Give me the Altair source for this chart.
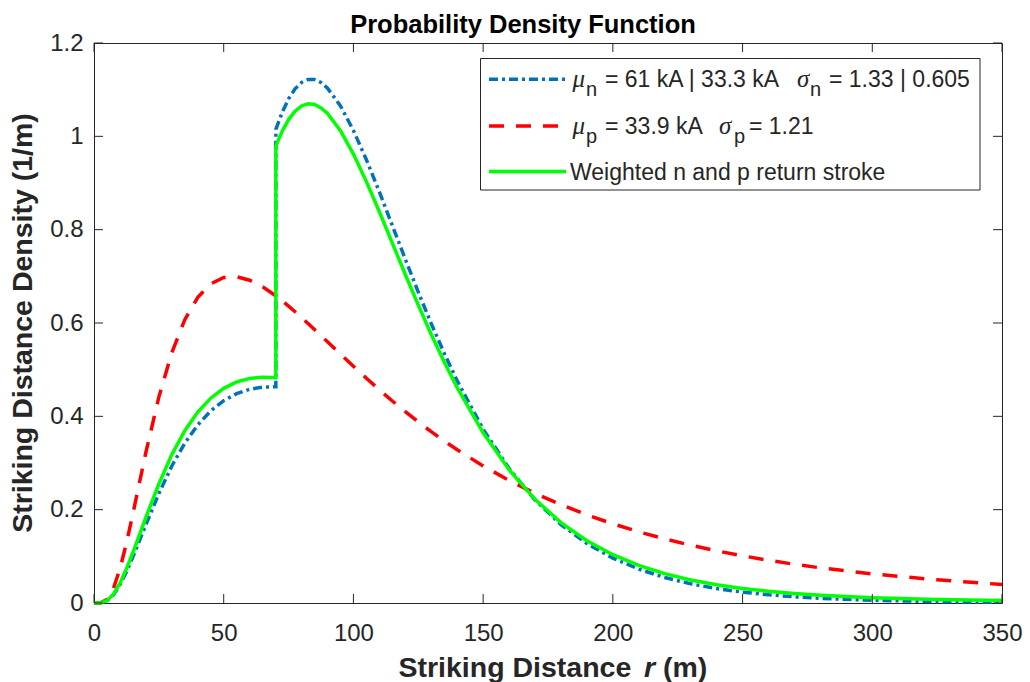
import altair as alt
import pandas as pd

# ---- data ----
r_vals = [0, 2.5, 5, 7.5, 10, 12.5, 15, 20, 25, 30, 35, 40, 45, 50, 55, 60, 65, 70.1, 70.1,
          72.5, 75, 77.5, 80, 82.5, 85, 87.5, 90, 95, 100, 105, 110, 115, 120, 125, 130, 135,
          140, 150, 160, 170, 180, 190, 200, 210, 220, 230, 240, 250, 260, 270, 280, 300,
          325, 350]

neg_vals = [0, 0.0003, 0.0047, 0.0175, 0.0392, 0.0668, 0.0989, 0.1680, 0.2347, 0.2936, 0.3426,
            0.3817, 0.4117, 0.4336, 0.4487, 0.4580, 0.4626, 0.4633, 1.0149, 1.0508, 1.0803,
            1.1017, 1.1154, 1.1219, 1.1217, 1.1153, 1.1033, 1.0653, 1.0126, 0.9498, 0.8808,
            0.8089, 0.7367, 0.6662, 0.5987, 0.5351, 0.4761, 0.3726, 0.2881, 0.2208, 0.1681,
            0.1273, 0.0962, 0.0725, 0.0546, 0.0411, 0.0309, 0.0233, 0.0176, 0.0132, 0.0100,
            0.0058, 0.0029, 0.0015]

pos_vals = [0, 0.0004, 0.0076, 0.0314, 0.0731, 0.1283, 0.1915, 0.3227, 0.4412, 0.5366, 0.6072,
            0.6551, 0.6840, 0.6975, 0.6991, 0.6916, 0.6774, 0.6580, 0.6580, 0.6476, 0.6361,
            0.6241, 0.6117, 0.5990, 0.5860, 0.5729, 0.5597, 0.5333, 0.5072, 0.4816, 0.4568,
            0.4329, 0.4100, 0.3880, 0.3671, 0.3472, 0.3284, 0.2937, 0.2627, 0.2351, 0.2106,
            0.1889, 0.1696, 0.1525, 0.1373, 0.1238, 0.1118, 0.1011, 0.0915, 0.0830, 0.0753,
            0.0624, 0.0496, 0.0397]

wgt_vals = [0, 0.0003, 0.0050, 0.0189, 0.0426, 0.0730, 0.1082, 0.1835, 0.2554, 0.3179, 0.3691,
            0.4091, 0.4389, 0.4600, 0.4737, 0.4813, 0.4840, 0.4827, 0.9792, 1.0105, 1.0359,
            1.0540, 1.0651, 1.0696, 1.0681, 1.0610, 1.0489, 1.0121, 0.9620, 0.9030, 0.8384,
            0.7713, 0.7040, 0.6384, 0.5755, 0.5163, 0.4613, 0.3647, 0.2856, 0.2222, 0.1723,
            0.1335, 0.1035, 0.0805, 0.0629, 0.0494, 0.0390, 0.0311, 0.0250, 0.0202, 0.0165,
            0.0114, 0.0076, 0.0053]

x_ticks = [0, 50, 100, 150, 200, 250, 300, 350]
y_ticks = [0, 0.2, 0.4, 0.6, 0.8, 1, 1.2]

W, H = 908, 560
FONT = "Liberation Sans"
INK = "#262626"

def series(vals):
    return pd.DataFrame({"r": r_vals, "v": vals, "i": list(range(len(r_vals)))})

xs = alt.Scale(domain=[0, 350], nice=False, zero=False)
ys = alt.Scale(domain=[0, 1.2], nice=False, zero=False)

xaxis = alt.Axis(values=x_ticks, title=None, grid=False, domain=False, ticks=False, tickSize=0,
                 labelFont=FONT, labelFontSize=24, labelColor=INK, labelPadding=18,
                 labelFlush=False, labelOverlap=False)
yaxis = alt.Axis(values=y_ticks, title=None, grid=False, domain=False, ticks=False, tickSize=0,
                 labelFont=FONT, labelFontSize=24, labelColor=INK, labelPadding=11,
                 labelFlush=False, labelOverlap=False,
                 labelExpr="'' + datum.value")

def X(field):
    return alt.X(field, scale=xs, axis=xaxis, title=None)

def Y(field):
    return alt.Y(field, scale=ys, axis=yaxis, title=None)

def line(vals, color, dash=None):
    kw = dict(color=color, strokeWidth=3.5, clip=False)
    if dash:
        kw["strokeDash"] = dash
    return alt.Chart(series(vals)).mark_line(**kw).encode(
        x=X("r:Q"), y=Y("v:Q"), order=alt.Order("i:Q"),
    )

BLUE_DASH = [9, 4, 3, 4]
RED_DASH = [15, 12]

blue = line(neg_vals, "#0072BD", BLUE_DASH)
red = line(pos_vals, "#FF0000", RED_DASH)
green = line(wgt_vals, "#00FF00")

# inward ticks on all four sides (MATLAB box style)
xt = pd.DataFrame({"r": x_ticks})
yt = pd.DataFrame({"v": y_ticks})
tick_kw = dict(color=INK, strokeWidth=1)
bt = alt.Chart(xt).mark_rule(**tick_kw).encode(x=X("r:Q"), y=alt.value(H), y2=alt.value(H - 9))
tt = alt.Chart(xt).mark_rule(**tick_kw).encode(x=X("r:Q"), y=alt.value(0), y2=alt.value(9))
lt = alt.Chart(yt).mark_rule(**tick_kw).encode(y=Y("v:Q"), x=alt.value(0), x2=alt.value(9))
rt = alt.Chart(yt).mark_rule(**tick_kw).encode(y=Y("v:Q"), x=alt.value(W), x2=alt.value(W - 9))

one = pd.DataFrame({"k": [0]})

def txt(s, x, y, size=24, font=FONT, weight="normal", style="normal", align="left",
        baseline="alphabetic", angle=0, color=INK):
    kw = dict(text=s, font=font, fontSize=size, fontWeight=weight, fontStyle=style,
              align=align, baseline=baseline, color=color)
    if angle:
        kw["angle"] = angle
    return alt.Chart(one).mark_text(**kw).encode(x=alt.value(x), y=alt.value(y))

# titles
title = txt("Probability Density Function", 429, -10, size=25.5, weight="bold",
            align="center", color="#000000")
xl1 = txt("Striking Distance", 304.5, 634, size=28.5, weight="bold")
xl2 = txt("r", 550, 634, size=28.5, weight="bold", style="italic")
xl3 = txt("(m)", 569, 634, size=28.5, weight="bold")
yl = txt("Striking Distance Density (1/m)", -71.5, H / 2, size=28.5, weight="bold",
         align="center", baseline="middle", angle=270)

# legend
box = alt.Chart(one).mark_rect(fill="white", stroke=INK, strokeWidth=1).encode(
    x=alt.value(386.5), x2=alt.value(886), y=alt.value(15.5), y2=alt.value(147))

def sample(color, y, dash=None):
    kw = dict(color=color, strokeWidth=3.5)
    if dash:
        kw["strokeDash"] = dash
    return alt.Chart(one).mark_rule(**kw).encode(x=alt.value(395), x2=alt.value(472),
                                                 y=alt.value(y))

GREEK = "Liberation Serif"
b1, b2, b3 = 44.3, 90.9, 136.5
SUB = 9
leg = [
    box,
    sample("#0072BD", b1 - 8, BLUE_DASH),
    sample("#FF0000", b2 - 8, RED_DASH),
    sample("#00FF00", b3 - 8),
    txt("μ", 478.6, b1, font=GREEK, style="italic", size=25),
    txt("n", 492, b1 + SUB, size=20),
    txt("= 61 kA | 33.3 kA", 511, b1, size=23),
    txt("σ", 703, b1, font=GREEK, style="italic", size=25),
    txt("n", 716, b1 + SUB, size=20),
    txt("= 1.33 | 0.605", 735, b1, size=23),
    txt("μ", 478.6, b2, font=GREEK, style="italic", size=25),
    txt("p", 492, b2 + SUB, size=20),
    txt("= 33.9 kA", 511, b2, size=23),
    txt("σ", 625, b2, font=GREEK, style="italic", size=25),
    txt("p", 640, b2 + SUB, size=20),
    txt("= 1.21", 655, b2, size=23),
    txt("Weighted n and p return stroke", 476, b3, size=23),
]

chart = alt.layer(
    blue, red, green, bt, tt, lt, rt, title, xl1, xl2, xl3, yl, *leg
).properties(
    width=W, height=H,
    padding={"left": 94, "top": 43, "right": 28, "bottom": 79},
    autosize=alt.AutoSizeParams(type="none"),
    background="white",
).configure_view(stroke=INK, strokeWidth=1)

chart.save("out.html", embed_options={"renderer": "svg", "actions": False})
